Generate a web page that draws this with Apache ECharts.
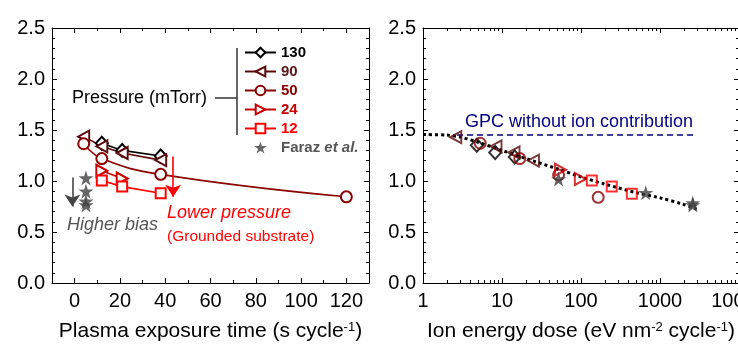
<!DOCTYPE html>
<html><head><meta charset="utf-8">
<script src="https://cdn.jsdelivr.net/npm/echarts@6/dist/echarts.min.js"></script>
<style>html,body{margin:0;padding:0;background:#fff}#c{width:738px;height:355px}</style>
</head><body><div id="c"></div>
<script>
// ---- Left panel: plasma exposure time (s/cycle) vs GPC ----
const TIME_130 = [12, 21, 38];
const GPC_130  = [1.37, 1.30, 1.245];
const TIME_90  = [4, 12, 21, 38];
const GPC_90   = [1.435, 1.34, 1.275, 1.205];
const TIME_50  = [4, 12, 38, 120];
const GPC_50   = [1.365, 1.22, 1.065, 0.845];
const TIME_24  = [12, 21];
const GPC_24   = [1.10, 1.025];
const TIME_12  = [12, 21, 38];
const GPC_12   = [1.005, 0.945, 0.88];
const FARAZ_TIME = [5, 5, 5, 5];
const FARAZ_GPC  = [1.03, 0.90, 0.80, 0.765];
// ---- Right panel: ion energy dose vs GPC ----
const DOSE_130 = [4.8, 8.2, 14.5];
const DGPC_130 = [1.35, 1.28, 1.235];
const DOSE_90  = [2.6, 8.4, 14.2, 25];
const DGPC_90  = [1.43, 1.34, 1.28, 1.20];
const DOSE_50  = [5.3, 16.8, 52, 165];
const DGPC_50  = [1.37, 1.22, 1.06, 0.84];
const DOSE_24  = [55, 98];
const DGPC_24  = [1.11, 1.02];
const DOSE_12  = [137, 245, 440];
const DGPC_12  = [1.005, 0.945, 0.875];
const FARAZ_DOSE = [52, 660, 2600, 2600];
const FARAZ_DGPC = [1.02, 0.885, 0.785, 0.765];
const FIT_DOSE = [1, 2, 3, 5, 10, 20, 50, 100, 200, 500, 1000, 2000, 2900];
const FIT_GPC  = [1.455, 1.45, 1.43, 1.38, 1.30, 1.22, 1.12, 1.04, 0.97, 0.885, 0.835, 0.77, 0.725];
const NOION_DOSE = [2.7, 2700];
const NOION_GPC  = [1.45, 1.45];
// ---- annotation arrows (data coords) ----
const ARROW_BIAS = [[-1, 1.035], [-1, 0.75]];
const ARROW_PRESSURE = [[43.5, 1.24], [43.5, 0.845]];
// ---- tick labels ----
const TIME_TICKS = [0, 20, 40, 60, 80, 100, 120];
const TIME_MINOR = [-10, 10, 30, 50, 70, 90, 110, 130];
const DOSE_TICKS = [1, 10, 100, 1000, 10000];
const DOSE_MINOR = [2,3,4,5,6,7,8,9,20,30,40,50,60,70,80,90,200,300,400,500,600,700,800,900,2000,3000,4000,5000,6000,7000,8000,9000];
const PRESSURES = ['130', '90', '50', '24', '12'];
const FARAZ = 'Faraz et al.';

const FONT = 'Liberation Sans, Arial, Helvetica, sans-serif';
const COLORS = {'130':'#000000','90':'#5a0a0a','50':'#8b0000','24':'#c80000','12':'#ff0000'};
const STAR_COLOR = '#404040';
const STAR = 'path://M50,0 L61.8,36.2 L100,36.2 L69.1,58.8 L80.9,95.1 L50,72.7 L19.1,95.1 L30.9,58.8 L0,36.2 L38.2,36.2 Z';
const SYMBOLS = {
  '130':{symbol:'diamond', size:[12,13], rot:0},
  '90':{symbol:'triangle', size:[12,11], rot:90},
  '50':{symbol:'circle', size:11, rot:0},
  '24':{symbol:'triangle', size:[12,11], rot:-90},
  '12':{symbol:'rect', size:10, rot:0}
};
const pairs = (xs, ys) => xs.map((x, i) => [x, ys[i]]);
const LEFT = {'130':[TIME_130,GPC_130],'90':[TIME_90,GPC_90],'50':[TIME_50,GPC_50],'24':[TIME_24,GPC_24],'12':[TIME_12,GPC_12]};
const RIGHT = {'130':[DOSE_130,DGPC_130],'90':[DOSE_90,DGPC_90],'50':[DOSE_50,DGPC_50],'24':[DOSE_24,DGPC_24],'12':[DOSE_12,DGPC_12]};

const axisLineStyle = {onZero:false, lineStyle:{color:'#000', width:1}};
const nameStyle = {fontSize:21, color:'#000', fontFamily:FONT, rich:{sup:{fontSize:13, verticalAlign:'top', color:'#000', fontFamily:FONT}}};
function xValAxis(grid, pos, ticks, len, withLine, withLabel, name) {
  return {
    type:'value', gridIndex:grid, position:pos, min:-10, max:130, interval:10,
    axisLine:{show:withLine, ...axisLineStyle},
    axisTick:{show:true, inside:true, length:len, customValues:ticks, lineStyle:{color:'#000'}},
    axisLabel:{show:withLabel, customValues:TIME_TICKS, fontSize:20, color:'#000', fontFamily:FONT, margin:8},
    splitLine:{show:false},
    name: name || '', nameLocation:'middle', nameGap:38, nameTextStyle:nameStyle
  };
}
function xLogAxis(grid, pos, ticks, len, withLine, withLabel, name) {
  return {
    type:'log', logBase:10, gridIndex:grid, position:pos, min:1, max:10000,
    axisLine:{show:withLine, ...axisLineStyle},
    axisTick:{show:true, inside:true, length:len, customValues:ticks, lineStyle:{color:'#000'}},
    axisLabel:{show:withLabel, customValues:DOSE_TICKS, fontSize:20, color:'#000', fontFamily:FONT, margin:8, formatter:v => String(Math.round(v))},
    splitLine:{show:false}, minorTick:{show:false},
    name: name || '', nameLocation:'middle', nameGap:38, nameTextStyle:nameStyle
  };
}
function yAxis(grid, pos, withLabel) {
  return {
    type:'value', gridIndex:grid, position:pos, min:0, max:2.5, interval:0.5,
    axisLine:{show:true, ...axisLineStyle},
    axisTick:{show:true, inside:true, length:5, lineStyle:{color:'#000'}},
    minorTick:{show:true, splitNumber:5, length:3, lineStyle:{color:'#000'}},
    axisLabel:{show:withLabel, fontSize:20, color:'#000', fontFamily:FONT, margin:7, formatter:v => v.toFixed(1)},
    splitLine:{show:false}
  };
}

const series = [];
PRESSURES.forEach(p => {
  const s = SYMBOLS[p];
  series.push({
    name:p, type:'line', xAxisIndex:0, yAxisIndex:0,
    data:pairs(LEFT[p][0], LEFT[p][1]),
    smooth: p === '50' ? 0.45 : false,
    symbol:s.symbol, symbolSize:s.size, symbolRotate:s.rot, showAllSymbol:true,
    lineStyle:{color:COLORS[p], width:1.6},
    itemStyle:{color:'#fff', borderColor:COLORS[p], borderWidth:2},
    z:3
  });
});
series.push({
  name:FARAZ, type:'scatter', xAxisIndex:0, yAxisIndex:0,
  data:pairs(FARAZ_TIME, FARAZ_GPC), symbol:STAR, symbolSize:15,
  itemStyle:{color:STAR_COLOR}, z:4,
  markLine:{
    silent:true, symbol:['none','arrow'], symbolSize:12, label:{show:false},
    emphasis:{disabled:true},
    data:[
      [{coord:ARROW_BIAS[0], lineStyle:{color:'#444', width:1.6, type:'solid'}, itemStyle:{color:'#444'}}, {coord:ARROW_BIAS[1]}],
      [{coord:ARROW_PRESSURE[0], lineStyle:{color:'#ff0000', width:1.6, type:'solid'}, itemStyle:{color:'#ff0000'}}, {coord:ARROW_PRESSURE[1]}]
    ]
  }
});
// right panel
series.push({
  name:'fit', type:'line', xAxisIndex:4, yAxisIndex:2, data:pairs(FIT_DOSE, FIT_GPC),
  smooth:0.3, symbol:'none', lineStyle:{color:'#000', width:3, type:[3,3]}, z:2, silent:true
});
series.push({
  name:'noion', type:'line', xAxisIndex:4, yAxisIndex:2, data:pairs(NOION_DOSE, NOION_GPC),
  symbol:'none', lineStyle:{color:'#000080', width:1.5, type:[6,4]}, z:2, silent:true
});
PRESSURES.forEach(p => {
  const s = SYMBOLS[p];
  series.push({
    name:p, type:'scatter', xAxisIndex:4, yAxisIndex:2,
    data:pairs(RIGHT[p][0], RIGHT[p][1]),
    symbol:s.symbol, symbolSize:s.size, symbolRotate:s.rot,
    itemStyle:{color:'rgba(255,255,255,0)', borderColor:COLORS[p], borderWidth:2}, z:3
  });
});
series.push({
  name:FARAZ, type:'scatter', xAxisIndex:4, yAxisIndex:2,
  data:pairs(FARAZ_DOSE, FARAZ_DGPC), symbol:STAR, symbolSize:15,
  itemStyle:{color:STAR_COLOR}, z:4
});

const legendData = PRESSURES.map(p => ({name:p, textStyle:{color: p==='130' ? '#000' : (p==='90' ? '#5a1515' : COLORS[p])}}));
legendData.push({name:FARAZ, textStyle:{color:'#555'}});

const option = {
  animation:false,
  backgroundColor:'#fff',
  textStyle:{fontFamily:FONT},
  grid:[
    {left:52, top:28, width:317, height:255, outerBoundsMode:'none', containLabel:false},
    {left:423, top:28, right:-1, height:255, outerBoundsMode:'none', containLabel:false}
  ],
  xAxis:[
    xValAxis(0,'bottom',TIME_TICKS,5,true,true,'Plasma exposure time (s cycle{sup|-1})'),
    xValAxis(0,'bottom',TIME_MINOR,3,false,false),
    xValAxis(0,'top',TIME_TICKS,5,true,false),
    xValAxis(0,'top',TIME_MINOR,3,false,false),
    xLogAxis(1,'bottom',DOSE_TICKS,5,true,true,'Ion energy dose (eV nm{sup|-2} cycle{sup|-1})'),
    xLogAxis(1,'bottom',DOSE_MINOR,3,false,false),
    xLogAxis(1,'top',DOSE_TICKS,5,true,false),
    xLogAxis(1,'top',DOSE_MINOR,3,false,false)
  ],
  yAxis:[ yAxis(0,'left',true), yAxis(0,'right',false), yAxis(1,'left',true), yAxis(1,'right',false) ],
  legend:{
    orient:'vertical', left:244, top:45, padding:0,
    itemWidth:31, itemHeight:12, itemGap:4,
    selectedMode:false,
    textStyle:{fontSize:15, fontWeight:'bold', fontFamily:FONT,
      rich:{b:{fontSize:15, fontWeight:'bold', color:'#555', fontFamily:FONT}, i:{fontSize:15, fontWeight:'bold', fontStyle:'italic', color:'#555', fontFamily:FONT}}},
    formatter: n => n === FARAZ ? '{b|Faraz }{i|et al.}' : n,
    data:legendData
  },
  graphic:[
    {type:'line', shape:{x1:237, y1:48, x2:237, y2:135}, style:{stroke:'#333', lineWidth:1.5}, silent:true},
    {type:'line', shape:{x1:215, y1:98, x2:237, y2:98}, style:{stroke:'#333', lineWidth:1.5}, silent:true},
    {type:'text', x:72, y:98, style:{text:'Pressure (mTorr)', font:'18px '+FONT, fill:'#000', verticalAlign:'middle', align:'left'}, silent:true},
    {type:'text', x:67, y:225, style:{text:'Higher bias', font:'italic 18px '+FONT, fill:'#555', verticalAlign:'middle', align:'left'}, silent:true},
    {type:'text', x:167, y:213, style:{text:'Lower pressure', font:'italic 18px '+FONT, fill:'#ff0000', verticalAlign:'middle', align:'left'}, silent:true},
    {type:'text', x:167, y:237, style:{text:'(Grounded substrate)', font:'15.5px '+FONT, fill:'#ff0000', verticalAlign:'middle', align:'left'}, silent:true},
    {type:'text', x:465, y:122, style:{text:'GPC without ion contribution', font:'18px '+FONT, fill:'#000080', verticalAlign:'middle', align:'left'}, silent:true}
  ],
  series:series
};
const chart = echarts.init(document.getElementById('c'), null, {renderer:'canvas'});
chart.setOption(option);
</script></body></html>
